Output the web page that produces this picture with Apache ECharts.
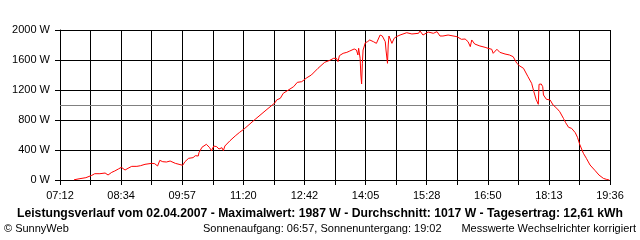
<!DOCTYPE html>
<html>
<head>
<meta charset="utf-8">
<script src="https://cdn.jsdelivr.net/npm/echarts@6/dist/echarts.min.js"></script>
<style>html,body{margin:0;padding:0;background:#fff;}#c{width:640px;height:240px;}</style>
</head>
<body>
<div id="c"></div>
<script>
// ---- data ----
var axisStart = '07:12';
var axisEnd = '19:36';
var times = ['07:31','07:39','07:47','07:55','07:59','08:06','08:13','08:17','08:22','08:26','08:31','08:35','08:40','08:44','08:49','08:56','08:58','09:01','09:07','09:16','09:20','09:24','09:27','09:31','09:36','09:41','09:48','09:53','09:58','10:01','10:06','10:12','10:15','10:19','10:20','10:24','10:30','10:34','10:37','10:40','10:44','10:47','10:51','10:53','10:55','11:02','11:09','11:15','11:21','11:36','11:52','12:03','12:05','12:10','12:14','12:28','12:33','12:39','12:46','12:52','13:01','13:10','13:17','13:22','13:26','13:28','13:30','13:35','13:40','13:44','13:50','13:53','13:55','13:56','13:58','13:59','14:00','14:01','14:02','14:05','14:08','14:11','14:16','14:20','14:25','14:28','14:32','14:33','14:35','14:36','14:37','14:41','14:44','14:47','14:52','15:01','15:08','15:17','15:19','15:23','15:30','15:37','15:42','15:46','15:50','15:57','16:09','16:15','16:20','16:24','16:27','16:29','16:33','16:40','16:47','16:51','16:56','16:58','17:03','17:07','17:14','17:20','17:25','17:30','17:34','17:39','17:41','17:45','17:50','17:53','17:56','17:59','18:00','18:03','18:05','18:06','18:10','18:15','18:19','18:24','18:28','18:33','18:36','18:40','18:44','18:49','18:52','18:55','19:00','19:04','19:09','19:16','19:21','19:27','19:31','19:35'];
var watts = [3,18,31,62,84,84,93,67,102,120,147,169,133,156,182,182,156,191,209,222,218,187,262,244,240,253,222,209,196,244,289,298,324,320,364,436,476,436,391,453,444,413,431,391,453,524,587,636,680,809,942,1031,1067,1089,1156,1244,1302,1311,1364,1400,1489,1569,1596,1622,1622,1578,1658,1689,1702,1720,1747,1733,1667,1756,1622,1400,1280,1556,1733,1830,1844,1867,1844,1822,1933,1920,1844,1733,1556,1800,1920,1822,1889,1911,1933,1964,1947,1956,1987,1933,1973,1956,1978,1920,1920,1933,1911,1876,1880,1844,1778,1867,1813,1787,1769,1756,1743,1689,1743,1702,1680,1667,1644,1556,1520,1489,1476,1378,1289,1178,1076,1009,1276,1280,1244,1133,1076,1067,1000,956,911,822,764,702,689,631,569,476,356,289,200,124,67,22,9,0];
var referenceLevel = 1000;
var yMax = 2000;
var yStep = 400;
var titleText = 'Leistungsverlauf vom 02.04.2007 - Maximalwert: 1987 W - Durchschnitt: 1017 W - Tagesertrag: 12,61 kWh';
var copyText = '\u00A9 SunnyWeb';
var sunText = 'Sonnenaufgang: 06:57, Sonnenuntergang: 19:02';
var noteText = 'Messwerte Wechselrichter korrigiert';

// ---- helpers ----
function toMin(s){var p=s.split(':');return (+p[0])*60+(+p[1]);}
var t0 = toMin(axisStart), span = toMin(axisEnd) - t0;
function fmt(v){
  var m = Math.floor(v + t0 + 1e-6);
  var h = Math.floor(m/60), mm = m%60;
  return (h<10?'0':'')+h+':'+(mm<10?'0':'')+mm;
}
var seriesData = times.map(function(t,i){return [toMin(t)-t0, watts[i]];});

var FONT = 'Liberation Sans, Arial, sans-serif';
var chart = echarts.init(document.getElementById('c'), null, {renderer:'canvas'});
chart.setOption({
  animation:false,
  backgroundColor:'#fff',
  grid:{left:60, top:30, right:30, bottom:60, containLabel:false},
  xAxis:{
    type:'value', min:0, max:span, interval:span/9,
    axisLine:{show:true, onZero:false, lineStyle:{color:'#000', width:1}},
    axisTick:{show:true, length:5, lineStyle:{color:'#000'}},
    minorTick:{show:true, splitNumber:2, length:5, lineStyle:{color:'#000'}},
    splitLine:{show:true, lineStyle:{color:'#000', width:1}},
    minorSplitLine:{show:true, lineStyle:{color:'#000', width:1}},
    axisLabel:{color:'#000', fontFamily:FONT, fontSize:11, margin:10, formatter:fmt, showMinLabel:true, showMaxLabel:true}
  },
  yAxis:{
    type:'value', min:0, max:yMax, interval:yStep,
    axisLine:{show:true, lineStyle:{color:'#000', width:1}},
    axisTick:{show:true, length:5, lineStyle:{color:'#000'}},
    splitLine:{show:true, lineStyle:{color:'#000', width:1}},
    axisLabel:{color:'#000', fontFamily:FONT, fontSize:11, margin:10, formatter:function(v){return String(Math.round(v))+' W';}}
  },
  series:[{
    type:'line', data:seriesData, showSymbol:false, symbol:'none',
    lineStyle:{color:'#ff0000', width:1}, z:5,
    markLine:{silent:true, symbol:['none','none'], label:{show:false},
      lineStyle:{color:'#808080', width:1, type:'solid'},
      data:[{yAxis:referenceLevel}], z:3}
  }],
  graphic:[
    {type:'text', left:'center', top:208, style:{text:titleText, font:'bold 12.2px '+FONT, fill:'#000'}},
    {type:'text', left:4, top:223, style:{text:copyText, font:'11px '+FONT, fill:'#000'}},
    {type:'text', left:203, top:223, style:{text:sunText, font:'11px '+FONT, fill:'#000'}},
    {type:'text', right:4, top:223, style:{text:noteText, font:'11px '+FONT, fill:'#000'}}
  ]
});
</script>
</body>
</html>
